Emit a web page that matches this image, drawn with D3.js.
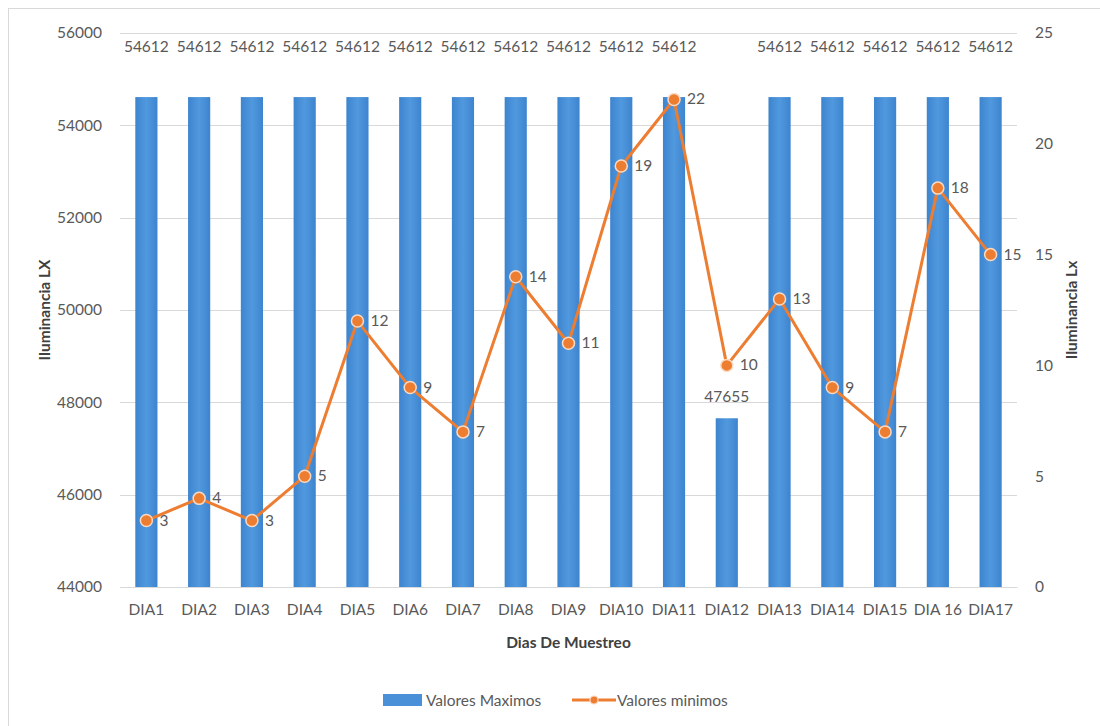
<!DOCTYPE html>
<html>
<head>
<meta charset="utf-8">
<script src="https://cdn.jsdelivr.net/npm/d3@7"></script>
<style>
  body { margin: 0; background: #fff; }
  svg text { font-family: Lato, "Open Sans", sans-serif; fill: #595959; }
  .axis-title { font-weight: bold; font-size: 15.5px; fill: #404040; }
</style>
</head>
<body>
<div id="chart"></div>
<script>
const dias = ['DIA1', 'DIA2', 'DIA3', 'DIA4', 'DIA5', 'DIA6', 'DIA7', 'DIA8', 'DIA9',
  'DIA10', 'DIA11', 'DIA12', 'DIA13', 'DIA14', 'DIA15', 'DIA 16', 'DIA17'];
const valoresMaximos = [54612, 54612, 54612, 54612, 54612, 54612, 54612, 54612, 54612,
  54612, 54612, 47655, 54612, 54612, 54612, 54612, 54612];
const valoresMinimos = [3, 4, 3, 5, 12, 9, 7, 14, 11, 19, 22, 10, 13, 9, 7, 18, 15];
const ticksLeft = [44000, 46000, 48000, 50000, 52000, 54000, 56000];
const ticksRight = [0, 5, 10, 15, 20, 25];

const W = 1100, H = 726;
const m = { top: 33, right: 83, bottom: 139, left: 120 };
const FS = '15.5px';

const svg = d3.select('#chart').append('svg')
  .attr('width', W)
  .attr('height', H);

// outer chart frame
svg.append('rect')
  .attr('x', 8.5).attr('y', 8.5)
  .attr('width', W).attr('height', H)
  .attr('fill', 'none')
  .attr('stroke', '#d9d9d9');

const defs = svg.append('defs');
const grad = defs.append('linearGradient').attr('id', 'barGrad')
  .attr('x1', '0%').attr('x2', '100%').attr('y1', '0%').attr('y2', '0%');
grad.append('stop').attr('offset', '0%').attr('stop-color', '#3d84cf');
grad.append('stop').attr('offset', '50%').attr('stop-color', '#5199de');
grad.append('stop').attr('offset', '100%').attr('stop-color', '#3d84cf');

const x = d3.scaleBand()
  .domain(dias)
  .range([m.left, W - m.right])
  .paddingInner(0.58)
  .paddingOuter(0.29);

const yL = d3.scaleLinear().domain([44000, 56000]).range([H - m.bottom, m.top]);
const yR = d3.scaleLinear().domain([0, 25]).range([H - m.bottom, m.top]);

// gridlines
svg.append('g')
  .selectAll('line')
  .data(ticksLeft)
  .join('line')
  .attr('x1', m.left).attr('x2', W - m.right)
  .attr('y1', d => Math.round(yL(d)) + 0.5)
  .attr('y2', d => Math.round(yL(d)) + 0.5)
  .attr('stroke', '#d9d9d9');

// left axis
const axL = svg.append('g')
  .attr('transform', `translate(${m.left - 18},0)`)
  .call(d3.axisLeft(yL).tickValues(ticksLeft).tickSize(0).tickPadding(0).tickFormat(d3.format('d')));
axL.select('.domain').remove();
axL.selectAll('text').style('font-size', FS).attr('fill', '#595959');

// right axis
const axR = svg.append('g')
  .attr('transform', `translate(${W - m.right + 18},0)`)
  .call(d3.axisRight(yR).tickValues(ticksRight).tickSize(0).tickPadding(0));
axR.select('.domain').remove();
axR.selectAll('text').style('font-size', FS).attr('fill', '#595959');

// bottom axis
const axB = svg.append('g')
  .attr('transform', `translate(0,${H - m.bottom})`)
  .call(d3.axisBottom(x).tickSize(0).tickPadding(17));
axB.select('.domain').attr('stroke', '#d9d9d9');
axB.selectAll('text').style('font-size', FS).attr('fill', '#595959');

// bars
svg.append('g')
  .selectAll('rect')
  .data(valoresMaximos)
  .join('rect')
  .attr('x', (d, i) => x(dias[i]))
  .attr('y', d => yL(d))
  .attr('width', x.bandwidth())
  .attr('height', d => yL(44000) - yL(d))
  .attr('fill', 'url(#barGrad)');

// bar labels: tall bars share a lane along the top, short ones sit just above the bar
const labelY = d => (yL(d) - 21 > yL(54000) ? yL(d) - 21 : yL(55700));
svg.append('g')
  .selectAll('text')
  .data(valoresMaximos)
  .join('text')
  .attr('x', (d, i) => x(dias[i]) + x.bandwidth() / 2)
  .attr('y', d => labelY(d) + 5)
  .attr('text-anchor', 'middle')
  .style('font-size', FS)
  .text(d => d);

// line series on the right scale
const cx = i => x(dias[i]) + x.bandwidth() / 2;
const line = d3.line()
  .x((d, i) => cx(i))
  .y(d => yR(d));

svg.append('path')
  .datum(valoresMinimos)
  .attr('d', line)
  .attr('fill', 'none')
  .attr('stroke', '#ed7d31')
  .attr('stroke-width', 3)
  .attr('stroke-linejoin', 'round');

svg.append('g')
  .selectAll('circle')
  .data(valoresMinimos)
  .join('circle')
  .attr('cx', (d, i) => cx(i))
  .attr('cy', d => yR(d))
  .attr('r', 6)
  .attr('fill', '#ed7d31')
  .attr('stroke', '#fbd9c2')
  .attr('stroke-width', 1.5);

svg.append('g')
  .selectAll('text')
  .data(valoresMinimos)
  .join('text')
  .attr('x', (d, i) => cx(i) + 13)
  .attr('y', d => yR(d) + 5)
  .style('font-size', FS)
  .text(d => d);

// axis titles
svg.append('text')
  .attr('class', 'axis-title')
  .attr('transform', `translate(50,${(m.top + H - m.bottom) / 2}) rotate(-90)`)
  .attr('text-anchor', 'middle')
  .text('Iluminancia LX');

svg.append('text')
  .attr('class', 'axis-title')
  .attr('transform', `translate(1077,${(m.top + H - m.bottom) / 2}) rotate(-90)`)
  .attr('text-anchor', 'middle')
  .text('Iluminancia Lx');

svg.append('text')
  .attr('class', 'axis-title')
  .attr('x', (m.left + W - m.right) / 2)
  .attr('y', 648)
  .attr('text-anchor', 'middle')
  .text('Dias De Muestreo');

// legend
const lg = svg.append('g').attr('transform', 'translate(383,700)');
lg.append('rect')
  .attr('x', 0).attr('y', -6)
  .attr('width', 39).attr('height', 12)
  .attr('fill', '#4a90d8');
lg.append('text')
  .attr('x', 43).attr('y', 5.5)
  .style('font-size', FS)
  .text('Valores Maximos');

lg.append('line')
  .attr('x1', 189).attr('x2', 233)
  .attr('y1', 0).attr('y2', 0)
  .attr('stroke', '#ed7d31')
  .attr('stroke-width', 3);
lg.append('circle')
  .attr('cx', 211).attr('cy', 0).attr('r', 4)
  .attr('fill', '#ed7d31')
  .attr('stroke', '#fbd9c2')
  .attr('stroke-width', 1.2);
lg.append('text')
  .attr('x', 234).attr('y', 5.5)
  .style('font-size', FS)
  .text('Valores minimos');
</script>
</body>
</html>
